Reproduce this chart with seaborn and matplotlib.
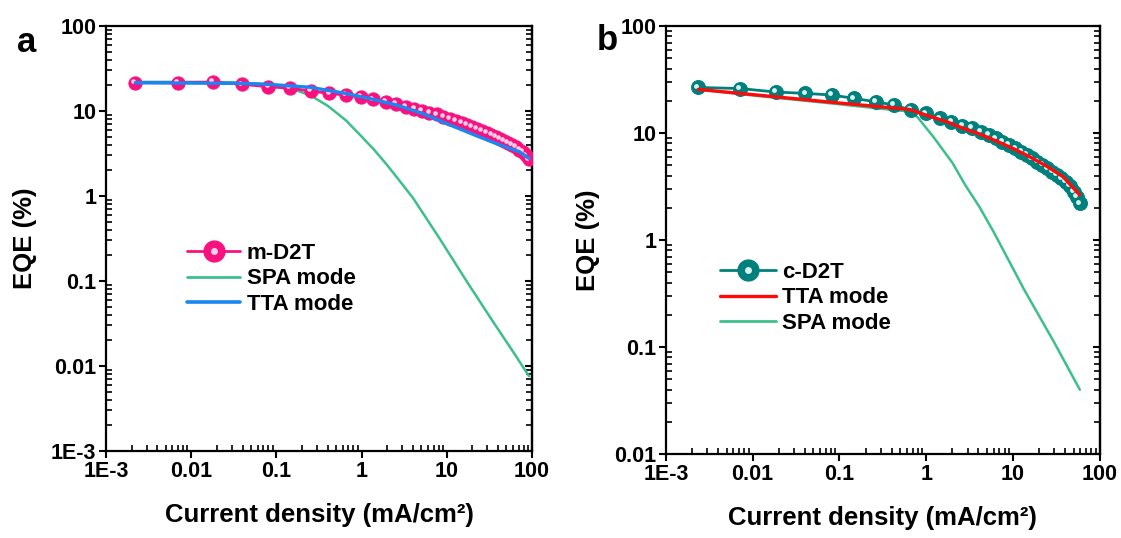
import numpy as np
import pandas as pd
import seaborn as sns
import matplotlib.pyplot as plt
from matplotlib.lines import Line2D
from matplotlib.legend_handler import HandlerTuple
from matplotlib.transforms import offset_copy

sns.set_style("ticks")
plt.rcParams["font.family"] = ["Liberation Sans", "DejaVu Sans"]
plt.rcParams["font.weight"] = "bold"
plt.rcParams["axes.labelweight"] = "bold"
for k in ["text.color", "axes.labelcolor", "xtick.color", "ytick.color", "axes.edgecolor"]:
    plt.rcParams[k] = "black"

# ---- panel a: m-D2T ----
a_j = [0.0022, 0.0069, 0.0179, 0.0391, 0.0803, 0.145, 0.252, 0.418, 0.650, 0.984,
       1.37, 1.92, 2.53, 3.29, 4.16, 5.12, 6.24, 7.60, 9.10, 10.9,
       12.8, 15.0, 17.1, 19.8, 22.6, 25.9, 29.4, 33.3, 37.5, 42.1,
       46.9, 52.3, 58.2, 64.3, 71.0, 77.8, 85.1, 92.2]
a_eqe = [21.5, 21.5, 21.9, 20.6, 19.3, 18.5, 17.2, 16.1, 15.4, 14.5,
         13.7, 12.9, 12.1, 11.2, 10.6, 10.0, 9.55, 9.14, 8.57, 8.12,
         7.69, 7.28, 6.90, 6.54, 6.19, 5.86, 5.55, 5.26, 4.98, 4.72,
         4.47, 4.24, 3.98, 3.74, 3.51, 3.27, 3.01, 2.70]
a_spa_j = [0.0022, 0.01, 0.03, 0.06, 0.1, 0.15, 0.25, 0.4, 0.65, 1.0,
           1.4, 2.0, 2.8, 4.0, 8, 17, 35, 60, 92]
a_spa = [22.0, 22.0, 21.8, 21.0, 19.8, 18.3, 15.3, 11.5, 7.8, 5.0,
         3.5, 2.3, 1.5, 0.95, 0.33, 0.1, 0.033, 0.0147, 0.0076]
a_tta_j = [0.0022, 0.04, 0.08, 0.25, 0.65, 1.37, 2.53, 5.12, 10.9, 22.6, 42.1, 71.0, 92.2]
a_tta = [21.5, 21.1, 20.6, 19.0, 16.1, 13.7, 11.8, 9.4, 6.85, 5.08, 3.98, 3.32, 2.77]

# ---- panel b: c-D2T ----
b_j = [0.00236, 0.00713, 0.0184, 0.0406, 0.0811, 0.148, 0.262, 0.428, 0.666, 1.0,
       1.43, 1.95, 2.62, 3.33, 4.26, 5.31, 6.34, 7.57, 9.02, 10.7,
       12.5, 14.6, 16.7, 19.1, 21.9, 25.0, 28.5, 32.2, 36.1, 40.6,
       45.1, 50.1, 54.8, 58.9]
b_eqe = [26.7, 26.1, 24.2, 23.5, 22.7, 21.1, 19.6, 18.3, 16.4, 15.3,
         13.7, 12.8, 11.7, 11.1, 10.3, 9.58, 8.92, 8.29, 7.73, 7.19,
         6.69, 6.23, 5.79, 5.39, 5.02, 4.68, 4.35, 4.05, 3.77, 3.51,
         3.20, 2.83, 2.54, 2.20]
b_tta_j = [0.00236, 0.01, 0.1, 0.3, 0.647, 1.0, 1.71, 2.66, 4.14, 6.45, 10.0, 15.6, 24.3, 37.8, 58.9]
b_tta = [25.6, 22.9, 19.1, 17.6, 16.6, 14.7, 12.8, 11.1, 9.8, 8.42, 7.19, 6.01, 4.92, 3.91, 2.64]
b_spa_j = [0.00236, 0.01, 0.1, 0.3, 0.65, 0.8, 1.2, 2.0, 2.8, 4.1, 6.0, 13.5, 30, 59]
b_spa = [25.6, 22.5, 18.6, 16.9, 15.9, 14.0, 9.3, 5.3, 3.3, 2.05, 1.19, 0.343, 0.11, 0.04]

tick_vals = [1e-3, 1e-2, 1e-1, 1, 10, 100]
tick_labels = ["1E-3", "0.01", "0.1", "1", "10", "100"]

pink, pink_hi = "#F8127F", "#FFD0E6"
teal, teal_hi = "#00807C", "#D8F2F0"
green = "#3DBF8C"
blue = "#1A86F2"
red = "#FF0A0A"

fig = plt.figure(figsize=(11.21, 5.38), dpi=100)
ax1 = fig.add_axes([0.0946, 0.1617, 0.380, 0.79])
ax2 = fig.add_axes([0.594, 0.156, 0.387, 0.7955])


def sphere_series(ax, x, y, color, hi, ms):
    sns.lineplot(x=x, y=y, ax=ax, color=color, linewidth=2, marker="o",
                 markersize=ms, markeredgecolor=color, markerfacecolor=color,
                 estimator=None, sort=False, legend=False, zorder=3)
    tr = offset_copy(ax.transData, fig=fig, x=-1.3, y=1.3, units="points")
    ax.plot(x, y, "o", ms=ms * 0.35, color=hi, mec="none", transform=tr, zorder=3.5)


def style_axes(ax, ylim, yt, ytl):
    ax.set_xscale("log")
    ax.set_yscale("log")
    ax.set_xlim(1e-3, 100)
    ax.set_ylim(*ylim)
    ax.set_xticks(tick_vals, tick_labels)
    ax.set_yticks(yt, ytl)
    for s in ax.spines.values():
        s.set_linewidth(1.6)
        s.set_color("black")
    ax.tick_params(which="major", direction="out", length=5, width=1.5,
                   labelsize=15.5, pad=2)
    ax.tick_params(which="minor", direction="in", length=4, width=1.2)
    for lab in ax.get_xticklabels() + ax.get_yticklabels():
        lab.set_fontweight("bold")
    # inward ticks on the right spine, no labels
    sec = ax.secondary_yaxis("right")
    sec.set_yticks(yt)
    sec.tick_params(which="both", direction="in", labelright=False)
    sec.tick_params(which="major", length=5, width=1.5)
    sec.tick_params(which="minor", length=4, width=1.2)
    sec.spines["right"].set_linewidth(1.6)
    ax.set_xlabel("Current density (mA/cm²)", fontsize=18.5, fontweight="bold", labelpad=15)
    ax.set_ylabel("EQE (%)", fontsize=18.5, fontweight="bold", labelpad=10)


def sphere_handle(color, hi):
    return (Line2D([], [], color=color, lw=2, marker="o", ms=15, mec=color, mfc=color),
            Line2D([], [], ls="none", marker="o", ms=5, color=hi, mec="none"))


# panel a
sns.lineplot(x=a_spa_j, y=a_spa, ax=ax1, color=green, linewidth=1.8,
             estimator=None, sort=False, legend=False, zorder=2)
sphere_series(ax1, a_j, a_eqe, pink, pink_hi, 9.5)
sns.lineplot(x=a_tta_j, y=a_tta, ax=ax1, color=blue, linewidth=2.4,
             estimator=None, sort=False, legend=False, zorder=4)
style_axes(ax1, (1e-3, 100), tick_vals, tick_labels)
ax1.legend(handles=[sphere_handle(pink, pink_hi),
                    Line2D([], [], color=green, lw=2),
                    Line2D([], [], color=blue, lw=2.6)],
           labels=["m-D2T", "SPA mode", "TTA mode"],
           handler_map={tuple: HandlerTuple(ndivide=1)},
           loc="center left", bbox_to_anchor=(0.19, 0.405), frameon=False,
           fontsize=16, handlelength=2.4, handletextpad=0.3, labelspacing=0.2,
           borderpad=0, borderaxespad=0)

# panel b
sns.lineplot(x=b_spa_j, y=b_spa, ax=ax2, color=green, linewidth=1.8,
             estimator=None, sort=False, legend=False, zorder=2)
sphere_series(ax2, b_j, b_eqe, teal, teal_hi, 10)
sns.lineplot(x=b_tta_j, y=b_tta, ax=ax2, color=red, linewidth=2.4,
             estimator=None, sort=False, legend=False, zorder=4)
style_axes(ax2, (0.01, 100), tick_vals[1:], tick_labels[1:])
ax2.legend(handles=[sphere_handle(teal, teal_hi),
                    Line2D([], [], color=red, lw=2.4),
                    Line2D([], [], color=green, lw=2)],
           labels=["c-D2T", "TTA mode", "SPA mode"],
           handler_map={tuple: HandlerTuple(ndivide=1)},
           loc="center left", bbox_to_anchor=(0.125, 0.365), frameon=False,
           fontsize=16, handlelength=2.5, handletextpad=0.3, labelspacing=0.2,
           borderpad=0, borderaxespad=0)

fig.text(27 / 1121, 1 - 43 / 538, "a", fontsize=25, fontweight="bold", ha="center", va="center")
fig.text(607 / 1121, 1 - 41 / 538, "b", fontsize=25, fontweight="bold", ha="center", va="center")

fig.savefig("out.png", dpi=100)
plt.close(fig)
